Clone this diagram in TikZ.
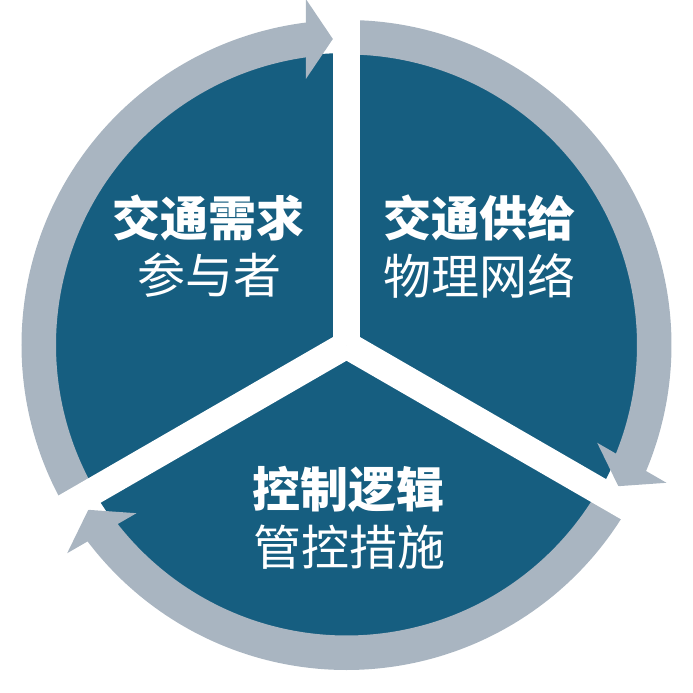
\documentclass[tikz,border=0pt]{standalone}
\usepackage{fontspec}
\newfontfamily\cjk{Noto Sans CJK SC}
\definecolor{disk}{HTML}{165E80}
\definecolor{ringgray}{HTML}{A9B5C1}
\tikzset{
  ringpart/.style={fill=ringgray, draw=none},
  gapband/.style={draw=white, line width=27.3pt, line cap=butt},
  titletext/.style={text=white, font=\cjk\bfseries\fontsize{48}{57}\selectfont, inner sep=0pt},
  subtext/.style={text=white, font=\cjk\fontsize{48}{57}\selectfont, inner sep=0pt}
}
\newcommand{\cyclearrow}{%
  \fill[ringpart] (210:325pt) arc[start angle=210, end angle=97.07, radius=325pt]
    -- (97.91:290.5pt) arc[start angle=97.91, end angle=210, radius=290.5pt] -- cycle;
  \fill[ringpart] (-13.65,306) -- (-40.65,266) -- (-40.65,346) -- cycle;
}
\begin{document}
\begin{tikzpicture}[x=1pt,y=1pt]
\useasboundingbox (-346.5,-348) rectangle (346.5,345);
% dark disk
\fill[disk] (0,0) circle[radius=292pt];
% ring arrows
\begin{scope}\cyclearrow\end{scope}
\begin{scope}[rotate=-120]\cyclearrow\end{scope}
\begin{scope}[rotate=120]\cyclearrow\end{scope}
% white gaps
\coordinate (c) at (0,0);
\coordinate (g1) at (90:345pt);
\coordinate (g2) at (210:345pt);
\coordinate (g3) at (330:345pt);
\draw[gapband] (c) -- (g1);
\draw[gapband] (c) -- (g2);
\draw[gapband] (c) -- (g3);
% texts
\node[titletext] (t1) at (-137.5,127) {交通需求};
\node[subtext] (s1) at (-136.5,70) {参与者};
\node[titletext] (t2) at (132.5,127.5) {交通供给};
\node[subtext] (s2) at (133,69) {物理网络};
\node[titletext] (t3) at (2.5,-144) {控制逻辑};
\node[subtext] (s3) at (3.5,-202.5) {管控措施};
\end{tikzpicture}
\end{document}
